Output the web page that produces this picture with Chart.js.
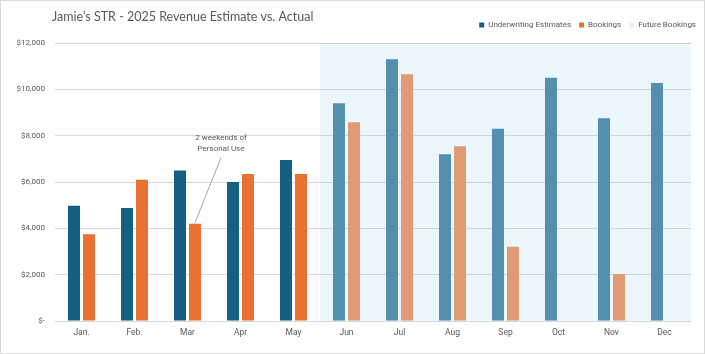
<!DOCTYPE html>
<html>
<head>
<meta charset="utf-8">
<script src="https://cdn.jsdelivr.net/npm/chart.js@4/dist/chart.umd.min.js"></script>
<style>
  body { margin: 0; background: #fff; }
  #wrap { width: 705px; height: 354px; box-sizing: border-box; border: 1px solid #d9d9d9; }
</style>
</head>
<body>
<div id="wrap"><canvas id="chart" width="703" height="352"></canvas></div>
<script>
const chartTitle = "Jamie's STR - 2025 Revenue Estimate vs. Actual";
const months = ['Jan.', 'Feb.', 'Mar', 'Apr', 'May', 'Jun', 'Jul', 'Aug', 'Sep', 'Oct', 'Nov', 'Dec'];
const estimates = [4980, 4880, 6500, 6000, 6950, 9400, 11300, 7200, 8300, 10500, 8750, 10270];
const bookings = [3750, 6100, 4200, 6350, 6350, 8580, 10650, 7540, 3200, null, 2030, null];
const yTicks = [0, 2000, 4000, 6000, 8000, 10000, 12000];
const noteLines = ['2 weekends of', 'Personal Use'];

const FIRST_FUTURE = 5; // Jun onwards is forecast
const TEXT = '#595959';
const FONT = "'Roboto', sans-serif";
const BAND_FILL = 'rgba(55, 165, 235, 0.1)';

const byMonth = (past, future) => ctx => ctx.dataIndex >= FIRST_FUTURE ? future : past;

// shaded "Future Bookings" region, Jun..Dec, behind the bars
const bandPlugin = {
  id: 'futureBand',
  beforeDatasetsDraw(chart) {
    const {ctx, chartArea, scales: {x, y}} = chart;
    const left = x.getPixelForValue(FIRST_FUTURE - 0.5);
    const top = y.getPixelForValue(yTicks[yTicks.length - 1]);
    ctx.save();
    ctx.fillStyle = BAND_FILL;
    ctx.fillRect(left, top, chartArea.right - left, y.getPixelForValue(0) - top);
    ctx.restore();
  }
};

// title sits on the same row as the legend, so it is drawn here
const titlePlugin = {
  id: 'sideTitle',
  afterDraw(chart) {
    const ctx = chart.ctx;
    ctx.save();
    ctx.fillStyle = TEXT;
    ctx.font = "12.5px 'Lato', sans-serif";
    ctx.textAlign = 'left';
    ctx.textBaseline = 'middle';
    ctx.fillText(chartTitle, 51, 16);
    ctx.restore();
  }
};

// callout for the March bookings bar
const calloutPlugin = {
  id: 'callout',
  afterDatasetsDraw(chart) {
    const bar = chart.getDatasetMeta(1).data[2];
    if (!bar) return;
    const ctx = chart.ctx;
    ctx.save();
    ctx.strokeStyle = '#a6a6a6';
    ctx.lineWidth = 1;
    ctx.beginPath();
    ctx.moveTo(bar.x, bar.y - 1);
    ctx.lineTo(bar.x + 26, bar.y - 66);
    ctx.stroke();
    ctx.fillStyle = TEXT;
    ctx.font = '8px ' + FONT;
    ctx.textAlign = 'center';
    ctx.textBaseline = 'middle';
    noteLines.forEach((line, i) => ctx.fillText(line, bar.x + 26, bar.y - 86 + i * 11));
    ctx.restore();
  }
};

new Chart(document.getElementById('chart').getContext('2d'), {
  type: 'bar',
  data: {
    labels: months,
    datasets: [{
      label: 'Underwriting Estimates',
      data: estimates,
      backgroundColor: byMonth('#156082', '#5290ae')
    }, {
      label: 'Bookings',
      data: bookings,
      backgroundColor: byMonth('#e97132', '#e09a74')
    }]
  },
  options: {
    responsive: false,
    animation: false,
    layout: { padding: { top: 12, right: 0, bottom: 0, left: 0 } },
    datasets: {
      bar: { categoryPercentage: 0.566, barPercentage: 0.8, borderWidth: 0 }
    },
    scales: {
      x: {
        position: 'bottom',
        grid: { display: false, drawTicks: false },
        border: { display: false },
        ticks: { color: TEXT, font: { family: FONT, size: 8.5 }, padding: 7 },
        afterFit: scale => { scale.height = 32; }
      },
      xTop: {
        axis: 'x',
        position: 'top',
        grid: { display: false, drawTicks: false },
        border: { display: false },
        ticks: { display: false },
        afterFit: scale => { scale.height = 4; }
      },
      y: {
        min: 0,
        max: 12000,
        afterBuildTicks: scale => { scale.ticks = yTicks.map(value => ({value})); },
        grid: { color: '#d9d9d9', drawTicks: false },
        border: { display: false },
        ticks: {
          color: TEXT,
          font: { family: FONT, size: 8 },
          padding: 10,
          callback: v => v === 0 ? '$-' : '$' + v.toLocaleString('en-US')
        },
        afterFit: scale => { scale.width = 54; }
      },
      yRight: {
        position: 'right',
        grid: { display: false, drawTicks: false },
        border: { display: false },
        ticks: { display: false },
        afterFit: scale => { scale.width = 13; }
      }
    },
    plugins: {
      title: { display: false },
      legend: {
        position: 'top',
        align: 'end',
        labels: {
          color: TEXT,
          font: { family: FONT, size: 8 },
          boxWidth: 5,
          boxHeight: 5,
          padding: 8,
          generateLabels: chart => {
            const items = Chart.defaults.plugins.legend.labels.generateLabels(chart);
            items.push({
              text: 'Future Bookings',
              fillStyle: '#e3f2fc',
              strokeStyle: '#e3f2fc',
              lineWidth: 0,
              fontColor: TEXT,
              hidden: false
            });
            return items;
          }
        }
      },
      tooltip: { enabled: false }
    }
  },
  plugins: [bandPlugin, titlePlugin, calloutPlugin]
});
</script>
</body>
</html>
